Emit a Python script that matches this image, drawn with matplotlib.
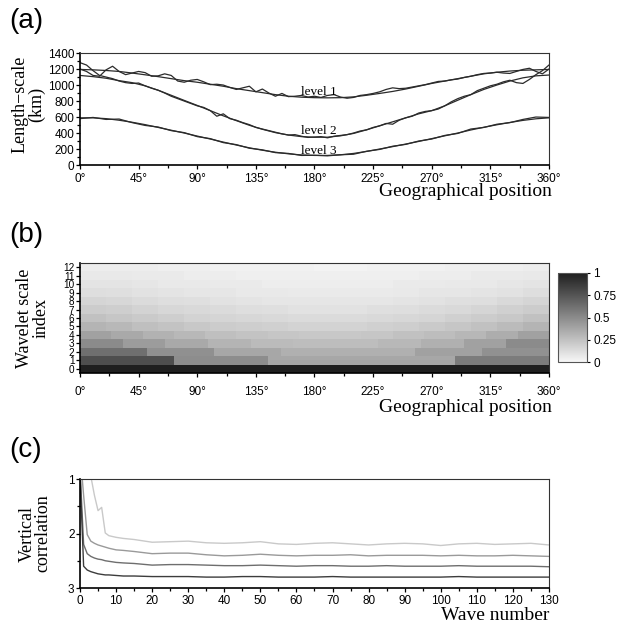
import numpy as np
import matplotlib
matplotlib.use('Agg')
import matplotlib.pyplot as plt
from matplotlib.colors import LinearSegmentedColormap, Normalize
from matplotlib.cm import ScalarMappable
from matplotlib.ticker import MultipleLocator, FixedLocator

plt.rcParams['font.family'] = 'Liberation Sans'
SERIF = 'Liberation Serif'

# --- (a) length-scale versus longitude ---
lon_10 = np.arange(0, 361, 10)
lon_5 = np.arange(0, 361, 5)

level1_smooth = [1195, 1190, 1182, 1170, 1150, 1128, 1105, 1080, 1055, 1035, 1010, 985, 955,
                 930, 905, 880, 860, 848, 842, 840, 842, 852, 872, 895, 920, 950, 985, 1020,
                 1050, 1080, 1110, 1140, 1160, 1175, 1185, 1190, 1195]
level1_wavy = [1200, 1170, 1120, 1110, 1190, 1235, 1170, 1130, 1150, 1170, 1155, 1110, 1115,
               1140, 1120, 1050, 1035, 1060, 1070, 1040, 1005, 1010, 1000, 970, 945, 965, 985,
               915, 950, 900, 860, 895, 855, 860, 870, 850, 860, 845, 870, 880, 850, 835, 845,
               870, 880, 895, 915, 945, 965, 955, 960, 975, 990, 1005, 1025, 1045, 1050, 1065,
               1075, 1095, 1110, 1130, 1145, 1150, 1160, 1150, 1145, 1170, 1195, 1210, 1170,
               1140, 1200]
level2_smooth = [1120, 1105, 1085, 1055, 1030, 990, 935, 872, 808, 745, 680, 615, 555, 497,
                 447, 405, 375, 355, 347, 348, 365, 395, 440, 490, 540, 590, 640, 680, 740, 810,
                 880, 945, 1000, 1050, 1090, 1115, 1125]
level2_wavy = [1280, 1250, 1180, 1120, 1100, 1080, 1050, 1030, 1020, 1025, 990, 960, 935, 900,
               860, 830, 800, 770, 740, 720, 680, 610, 640, 580, 560, 530, 505, 470, 450, 430,
               410, 390, 375, 380, 360, 345, 350, 355, 340, 360, 370, 380, 400, 425, 440, 470,
               490, 520, 510, 560, 590, 610, 650, 670, 680, 700, 740, 790, 830, 860, 880, 930,
               960, 990, 1010, 1040, 1060, 1030, 1020, 1070, 1130, 1180, 1250]
level3_smooth = [590, 590, 580, 560, 535, 505, 470, 435, 400, 362, 325, 287, 250, 215, 185,
                 160, 140, 126, 120, 120, 128, 145, 170, 200, 230, 262, 295, 330, 365, 400, 438,
                 472, 503, 532, 558, 578, 590]
level3_wavy = [580, 595, 570, 575, 530, 495, 475, 430, 405, 355, 330, 280, 255, 210, 190, 155,
               145, 120, 122, 115, 128, 135, 172, 195, 235, 258, 300, 325, 370, 395, 450, 470,
               510, 530, 570, 600, 595]
level_names = ['level 1', 'level 2', 'level 3']
level_label_y = [915, 425, 170]

# --- (b) normalised amplitude per wavelet scale (row k split into equal segments) ---
scale_rows = [
    [1.0],
    [0.78, 0.49, 0.37, 0.37, 0.57],
    [0.63, 0.48, 0.37, 0.33, 0.33, 0.40, 0.47],
    [0.50, 0.42, 0.36, 0.31, 0.28, 0.27, 0.27, 0.29, 0.33, 0.40, 0.50],
    [0.40, 0.36, 0.32, 0.29, 0.26, 0.24, 0.23, 0.22, 0.22, 0.23, 0.25, 0.27, 0.30, 0.34, 0.40],
    [0.31, 0.29, 0.26, 0.24, 0.22, 0.20, 0.19, 0.18, 0.17, 0.17, 0.17, 0.18, 0.19, 0.21, 0.23, 0.25, 0.28, 0.31],
    [0.25, 0.23, 0.21, 0.19, 0.17, 0.16, 0.15, 0.14, 0.13, 0.13, 0.13, 0.14, 0.15, 0.16, 0.18, 0.20, 0.22, 0.25],
    [0.20, 0.19, 0.17, 0.15, 0.14, 0.13, 0.12, 0.11, 0.10, 0.10, 0.10, 0.11, 0.12, 0.13, 0.14, 0.16, 0.18, 0.20],
    [0.16, 0.15, 0.13, 0.12, 0.11, 0.10, 0.09, 0.08, 0.08, 0.08, 0.08, 0.08, 0.09, 0.10, 0.11, 0.12, 0.14, 0.16],
    [0.12, 0.11, 0.10, 0.09, 0.08, 0.08, 0.07, 0.07, 0.06, 0.06, 0.06, 0.06, 0.07, 0.08, 0.08, 0.09, 0.10, 0.12],
    [0.09, 0.09, 0.08, 0.07, 0.07, 0.06, 0.06, 0.05, 0.05, 0.05, 0.05, 0.05, 0.06, 0.06, 0.07, 0.07, 0.08, 0.09],
    [0.07, 0.07, 0.06, 0.06, 0.05, 0.05, 0.04, 0.04, 0.04, 0.04, 0.04, 0.04, 0.04, 0.05, 0.05, 0.06, 0.06, 0.07],
    [0.05, 0.05, 0.05, 0.04, 0.04, 0.03, 0.03, 0.03, 0.03, 0.02, 0.02, 0.03, 0.03, 0.03, 0.04, 0.04, 0.04, 0.05],
]

# --- (c) vertical correlation versus wave number ---
wave_number = [0, 1, 2, 3, 4, 5, 6, 7, 8, 10, 12, 15, 20, 25, 30, 35, 40, 45, 50, 55, 60, 65,
               70, 75, 80, 85, 90, 95, 100, 105, 110, 115, 120, 125, 130]
corr_a = [0.2, 0.4, 0.7, 0.95, 1.3, 1.58, 1.52, 1.99, 2.04, 2.07, 2.09, 2.11, 2.16, 2.15, 2.14,
          2.17, 2.18, 2.17, 2.15, 2.19, 2.2, 2.18, 2.17, 2.19, 2.21, 2.19, 2.18, 2.19, 2.22, 2.19,
          2.18, 2.2, 2.19, 2.18, 2.21]
corr_b = [0.5, 1.3, 2.02, 2.14, 2.18, 2.21, 2.23, 2.25, 2.27, 2.3, 2.31, 2.33, 2.37, 2.36, 2.36,
          2.39, 2.41, 2.4, 2.38, 2.4, 2.41, 2.4, 2.4, 2.39, 2.41, 2.4, 2.4, 2.4, 2.41, 2.4, 2.41,
          2.41, 2.4, 2.41, 2.42]
corr_c = [0.8, 2.2, 2.37, 2.42, 2.45, 2.47, 2.48, 2.5, 2.51, 2.53, 2.54, 2.55, 2.58, 2.57, 2.57,
          2.58, 2.59, 2.59, 2.58, 2.59, 2.6, 2.59, 2.59, 2.6, 2.6, 2.59, 2.6, 2.6, 2.6, 2.59, 2.6,
          2.6, 2.6, 2.6, 2.61]
corr_d = [0.9, 2.6, 2.67, 2.7, 2.72, 2.74, 2.75, 2.76, 2.76, 2.77, 2.78, 2.78, 2.79, 2.79, 2.79,
          2.8, 2.8, 2.79, 2.79, 2.8, 2.8, 2.8, 2.79, 2.8, 2.8, 2.8, 2.8, 2.8, 2.8, 2.79, 2.8,
          2.8, 2.8, 2.8, 2.8]
corr_colors = ['#c9c9c9', '#9a9a9a', '#6e6e6e', '#3c3c3c']

deg_ticks = np.arange(0, 361, 45)
deg_labels = [f'{d}\u00b0' for d in deg_ticks]


def style_axes(ax, pad):
    for side in ['left', 'bottom']:
        ax.spines[side].set_linewidth(1.2)
    for side in ['top', 'right']:
        ax.spines[side].set_linewidth(0.8)
        ax.spines[side].set_color('#333333')
    ax.tick_params(which='both', direction='out', top=False, right=False, labelsize=8.5,
                   width=0.9)
    ax.tick_params(which='major', length=3)
    ax.tick_params(which='minor', length=2)
    ax.tick_params(axis='x', pad=pad)
    ax.tick_params(axis='y', pad=1)


fig = plt.figure(figsize=(6.32, 6.27), dpi=100)

ax_a = fig.add_axes([0.1266, 0.7368, 0.742, 0.1786])
ax_b = fig.add_axes([0.1266, 0.4051, 0.742, 0.1754])
cax = fig.add_axes([0.883, 0.4226, 0.0459, 0.142])
ax_c = fig.add_axes([0.1266, 0.0622, 0.742, 0.1738])

# panel (a)
line_kw = dict(color='#2b2b2b', lw=0.9)
curves = [(lon_10, level1_smooth), (lon_5, level1_wavy),
          (lon_10, level2_smooth), (lon_5, level2_wavy),
          (lon_10, level3_smooth), (lon_10, level3_wavy)]
for xs, ys in curves:
    ax_a.plot(xs, ys, **line_kw)
for name, y in zip(level_names, level_label_y):
    ax_a.text(183, y, name, fontsize=9.5, fontfamily=SERIF, ha='center', va='center')
ax_a.set_xlim(0, 360)
ax_a.set_ylim(0, 1400)
ax_a.set_xticks(deg_ticks)
ax_a.set_xticklabels(deg_labels)
ax_a.xaxis.set_minor_locator(MultipleLocator(22.5))
ax_a.yaxis.set_major_locator(MultipleLocator(200))
ax_a.yaxis.set_minor_locator(MultipleLocator(100))
style_axes(ax_a, 2.5)
ax_a.text(-0.111, 0.54, 'Length\u2212scale\n(km)', transform=ax_a.transAxes, rotation=90,
          ha='center', va='center', multialignment='center', fontsize=13,
          fontfamily=SERIF, linespacing=0.95)
ax_a.text(1.007, -0.235, 'Geographical position', transform=ax_a.transAxes, ha='right',
          va='center', fontsize=14, fontfamily=SERIF)

# panel (b)
cmap = LinearSegmentedColormap.from_list('greys_soft', ['#f7f7f7', '#1f1f1f'])
norm = Normalize(0, 1)
for k, vals in enumerate(scale_rows):
    edges = np.linspace(0, 360, len(vals) + 1)
    ax_b.pcolormesh(edges, [k - 0.5, k + 0.5], np.array([vals]), cmap=cmap, norm=norm,
                    shading='flat', edgecolors='none', antialiased=False)
ax_b.set_xlim(0, 360)
ax_b.set_ylim(-0.5, 12.5)
ax_b.set_xticks(deg_ticks)
ax_b.set_xticklabels(deg_labels)
ax_b.xaxis.set_minor_locator(MultipleLocator(22.5))
ax_b.yaxis.set_major_locator(FixedLocator(range(13)))
style_axes(ax_b, 6)
ax_b.tick_params(axis='y', labelsize=7.2)
ax_b.text(-0.1, 0.5, 'Wavelet scale\nindex', transform=ax_b.transAxes, rotation=90,
          ha='center', va='center', multialignment='center', fontsize=13,
          fontfamily=SERIF, linespacing=0.95)
ax_b.text(1.007, -0.315, 'Geographical position', transform=ax_b.transAxes, ha='right',
          va='center', fontsize=14, fontfamily=SERIF)

cb = fig.colorbar(ScalarMappable(norm=norm, cmap=cmap), cax=cax,
                  ticks=[0, 0.25, 0.5, 0.75, 1])
cb.ax.set_yticklabels(['0', '0.25', '0.5', '0.75', '1'])
cb.ax.tick_params(labelsize=8.5, length=2.5, width=0.8, pad=2)
cb.outline.set_linewidth(0.8)
cb.outline.set_edgecolor('#555555')

# panel (c)
for vals, col in zip([corr_a, corr_b, corr_c, corr_d], corr_colors):
    ax_c.plot(wave_number, vals, color=col, lw=1.0)
ax_c.set_xlim(0, 130)
ax_c.set_ylim(3, 1)
ax_c.xaxis.set_major_locator(MultipleLocator(10))
ax_c.xaxis.set_minor_locator(MultipleLocator(5))
ax_c.yaxis.set_major_locator(FixedLocator([1, 2, 3]))
ax_c.yaxis.set_minor_locator(FixedLocator([1.5, 2.5]))
style_axes(ax_c, 2)
ax_c.text(-0.096, 0.5, 'Vertical\ncorrelation', transform=ax_c.transAxes, rotation=90,
          ha='center', va='center', multialignment='center', fontsize=13,
          fontfamily=SERIF, linespacing=0.95)
ax_c.text(1.0, -0.255, 'Wave number', transform=ax_c.transAxes, ha='right',
          va='center', fontsize=14, fontfamily=SERIF)

# panel tags
for tag, ypix in [('(a)', 21), ('(b)', 235), ('(c)', 450)]:
    fig.text(0.014, 1 - ypix / 627, tag, fontsize=20, ha='left', va='center')

fig.savefig('out.png', dpi=100)
